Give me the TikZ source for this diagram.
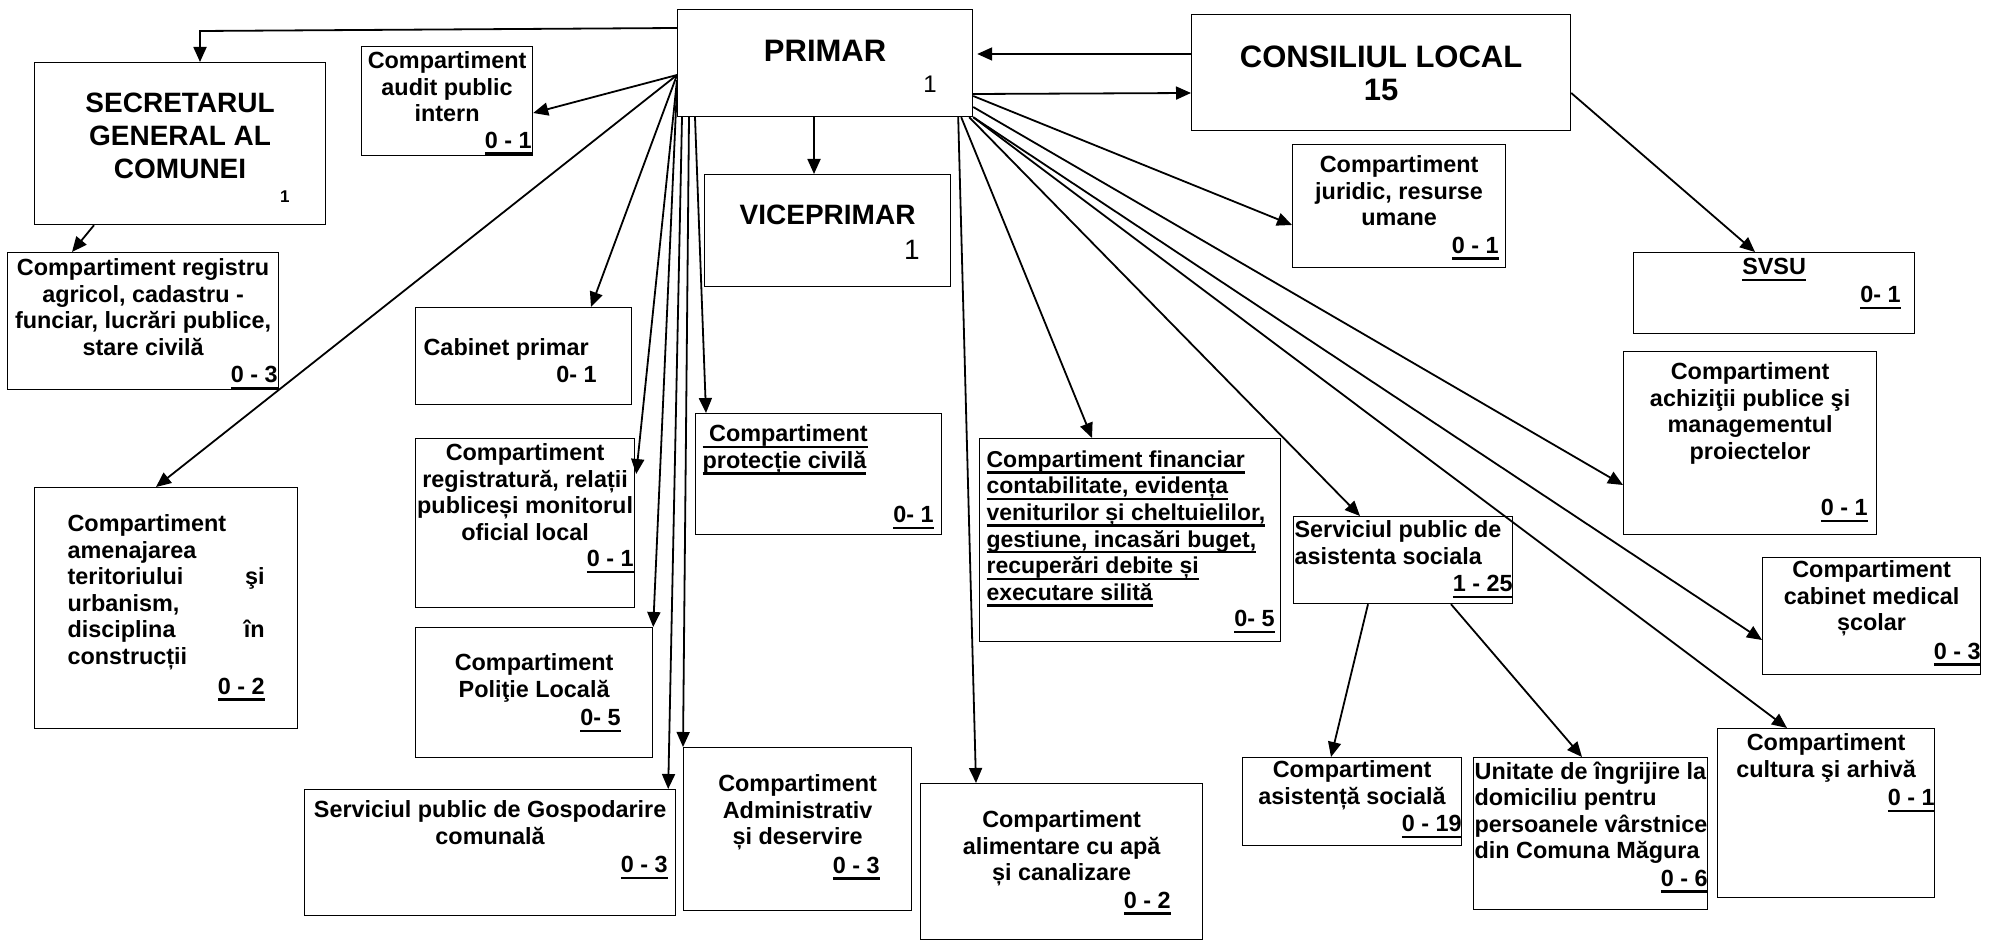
\documentclass[tikz,border=0pt]{standalone}
\usepackage{fontspec}
\setmainfont{Liberation Sans}
\usetikzlibrary{arrows.meta}
\newdimen\px \px=0.5pt
\newcommand{\cell}[3]{\parbox[t][#2\px][t]{#1\px}{#3}}
\newcommand{\ul}[1]{\leavevmode\vtop{\hbox{\raisebox{0pt}[\height][0pt]{#1}}\kern2pt\hrule height 1.2pt}}
\newcommand{\boxtxt}{\fontsize{11.7}{13.3}\selectfont\bfseries}
\newcommand{\bigtxt}{\fontsize{15.5}{16.5}\selectfont}
\newcommand{\midtxt}{\fontsize{14}{16.5}\selectfont}
\begin{document}
\begin{tikzpicture}[x=0.5pt, y=-0.5pt]
        \tikzset{
            unit/.style={
                    draw,
                    line width=0.6pt,
                    inner sep=0pt,
                    anchor=north west,
                    font=\boxtxt,
                },
            link/.style={-{Triangle[length=7.5pt, width=6.5pt]}, line width=0.9pt},
        }
        \useasboundingbox (0, 0) rectangle (1991, 941);
        % \draw (0, 0) grid[step=100] (1991, 941);
        \node[unit] (primar) at (677, 9) {\cell{295}{107}{\vspace*{31\px}\centering\bigtxt PRIMAR\par\raggedleft\fontsize{12}{15.5}\selectfont\mdseries 1\hspace*{36\px}\par}};
        \node[unit] (consiliu) at (1191, 14) {\cell{379}{116}{\vspace*{31\px}\centering\bigtxt CONSILIUL LOCAL\\15\par}};
        \node[unit] (secretar) at (34, 62) {\cell{291}{162}{\vspace*{30\px}\centering\midtxt SECRETARUL\\GENERAL AL\\COMUNEI\par\raggedleft\fontsize{8.5}{12}\selectfont 1\hspace*{36\px}\par}};
        \node[unit] (audit) at (361, 46) {\cell{171}{109}{\vspace*{5\px}\centering Compartiment\\audit public\\intern\\\hfill\ul{0 - 1}\hspace*{1\px}}};
        \node[unit] (registru) at (7, 252) {\cell{271}{137}{\vspace*{6\px}\centering Compartiment registru\\agricol, cadastru -\\funciar, lucrări publice,\\stare civilă\\[1\px]\hfill\ul{0 - 3}\hspace*{1\px}}};
        \node[unit] (cabprimar) at (415, 307) {\cell{216}{97}{\vspace*{31\px}\raggedright\leftskip=8\px Cabinet primar\\\hfill 0- 1\hspace*{35\px}}};
        \node[unit] (vice) at (704, 174) {\cell{246}{112}{\vspace*{30\px}\centering\midtxt VICEPRIMAR\par\raggedleft\fontsize{14}{17.5}\selectfont\mdseries 1\hspace*{31\px}\par}};
        \node[unit] (juridic) at (1292, 144) {\cell{213}{123}{\vspace*{11\px}\centering Compartiment\\juridic, resurse\\umane\\[1\px]\hfill\ul{0 - 1}\hspace*{7\px}}};
        \node[unit] (svsu) at (1633, 252) {\cell{281}{81}{\vspace*{6\px}\centering\ul{SVSU}\\[1\px]\hfill\ul{0- 1}\hspace*{14\px}}};
        \node[unit] (achizitii) at (1623, 351) {\cell{253}{183}{\vspace*{11\px}\centering Compartiment\\achiziţii publice şi\\managementul\\proiectelor\\[30\px]\hfill\ul{0 - 1}\hspace*{9\px}}};
        \node[unit] (cabmed) at (1762, 557) {\cell{218}{117}{\vspace*{3\px}\centering Compartiment\\cabinet medical\\școlar\\[2\px]\hfill\ul{0 - 3}}};
        \node[unit] (cultura) at (1717, 728) {\cell{217}{169}{\vspace*{5\px}\centering Compartiment\\cultura şi arhivă\\[2\px]\hfill\ul{0 - 1}}};
        \node[unit] (asistenta) at (1242, 757) {\cell{219}{88}{\vspace*{3\px}\centering Compartiment\\asistență socială\\[1\px]\hfill\ul{0 - 19}}};
        \node[unit] (unitate) at (1473, 757) {\cell{234}{152}{\vspace*{4\px}\raggedright\leftskip=1\px Unitate de îngrijire~la\\domiciliu pentru\\persoanele~vârstnice\\din Comuna Măgura\\[1\px]\hfill\ul{0 - 6}}};
        \node[unit] (sas) at (1293, 516) {\cell{219}{87}{\vspace*{4\px}\raggedright\leftskip=1\px Serviciul public de\\asistenta sociala\\[1\px]\hfill\ul{1 - 25}}};
        \node[unit] (financiar) at (979, 438) {\cell{301}{203}{\vspace*{12\px}\raggedright\leftskip=7\px\fontsize{11.5}{13.3}\selectfont\ul{Compartiment financiar}\\\ul{contabilitate, evidența}\\\ul{veniturilor și cheltuielilor,}\\\ul{gestiune, incasări buget,}\\\ul{recuperări debite și}\\\ul{executare silită}\\\fontsize{11.7}{13.3}\selectfont\hfill\ul{0- 5}\hspace*{6\px}}};
        \node[unit] (alimentare) at (920, 783) {\cell{282}{156}{\vspace*{27\px}\centering Compartiment\\alimentare cu apă\\și canalizare\\[1\px]\hfill\ul{0 - 2}\hspace*{32\px}}};
        \node[unit] (protectie) at (695, 413) {\cell{246}{121}{\vspace*{11\px}\raggedright\leftskip=7\px\ul{\ Compartiment}\\\ul{protecție civilă}\\[28\px]\hfill\ul{0- 1}\hspace*{8\px}}};
        \node[unit] (administrativ) at (683, 747) {\cell{228}{163}{\vspace*{27\px}\centering Compartiment\\Administrativ\\și deservire\\[2\px]\hfill\ul{0 - 3}\hspace*{32\px}}};
        \node[unit] (gospodarire) at (304, 789) {\cell{371}{126}{\vspace*{11\px}\centering Serviciul public de Gospodarire\\comunală\\[2\px]\hfill\ul{0 - 3}\hspace*{8\px}}};
        \node[unit] (politie) at (415, 627) {\cell{237}{130}{\vspace*{26\px}\centering Compartiment\\Poliţie Locală\\[2\px]\hfill\ul{0- 5}\hspace*{32\px}}};
        \node[unit] (registratura) at (415, 438) {\cell{219}{169}{\vspace*{5\px}\centering Compartiment\\registratură, relații\\publiceși~monitorul\\oficial local\\\hfill\ul{0 - 1}\hspace*{1\px}}};
        \node[unit] (amenajare) at (34, 487) {\cell{263}{241}{\vspace*{27\px}\raggedright\leftskip=33\px\rightskip=33\px plus 1fil Compartiment\\amenajarea\\teritoriului\hfill şi\\urbanism,\\disciplina\hfill în\\construcții\\[3\px]\hfill\ul{0 - 2}}};
        \coordinate (fan) at ([shift={(0, 66)}]primar.north west);
        \draw[link] ([shift={(0, 19)}]primar.north west) -- ([shift={(166, -31)}]secretar.north west) -- ([shift={(166, 0)}]secretar.north west);
        \draw[link] ([shift={(60, 0)}]secretar.south west) -- ([shift={(65, 0)}]registru.north west);
        \draw[link] (fan) -- ([shift={(0, 67)}]audit.north east);
        \draw[link] (fan) -- ([shift={(122, 0)}]amenajare.north west);
        \draw[link] (fan) -- ([shift={(176, 0)}]cabprimar.north west);
        \draw[link] ([shift={(0, 71)}]primar.north west) -- ([shift={(1, 36)}]registratura.north east);
        \draw[link] ([shift={(0, 77)}]primar.north west) -- (politie.north east);
        \draw[link] ([shift={(5, 0)}]primar.south west) -- ([shift={(-8, 0)}]gospodarire.north east);
        \draw[link] ([shift={(12, 0)}]primar.south west) -- (administrativ.north west);
        \draw[link] ([shift={(18, 0)}]primar.south west) -- ([shift={(11, 0)}]protectie.north west);
        \draw[link] ([shift={(137, 0)}]primar.south west) -- ([shift={(110, 0)}]vice.north west);
        \draw[link] ([shift={(-15, 0)}]primar.south east) -- ([shift={(56, 0)}]alimentare.north west);
        \draw[link] ([shift={(-12, 0)}]primar.south east) -- ([shift={(113, 0)}]financiar.north west);
        \draw[link] ([shift={(0, 40)}]consiliu.north west) -- ([shift={(4, 45)}]primar.north east);
        \draw[link] ([shift={(0, 85)}]primar.north east) -- ([shift={(0, 79)}]consiliu.north west);
        \draw[link] ([shift={(0, 87)}]primar.north east) -- ([shift={(0, 81)}]juridic.north west);
        \draw[link] ([shift={(0, 98)}]primar.north east) -- ([shift={(0, 134)}]achizitii.north west);
        \draw[link] (primar.south east) -- ([shift={(0, 83)}]cabmed.north west);
        \draw[link] (primar.south east) -- ([shift={(70, 0)}]cultura.north west);
        \draw[link] ([shift={(-4, 0)}]primar.south east) -- ([shift={(67, 0)}]sas.north west);
        \draw[link] ([shift={(0, 79)}]consiliu.north east) -- ([shift={(122, 0)}]svsu.north west);
        \draw[link] ([shift={(75, 0)}]sas.south west) -- ([shift={(89, 0)}]asistenta.north west);
        \draw[link] ([shift={(158, 0)}]sas.south west) -- ([shift={(109, 0)}]unitate.north west);
    \end{tikzpicture}
\end{document}
